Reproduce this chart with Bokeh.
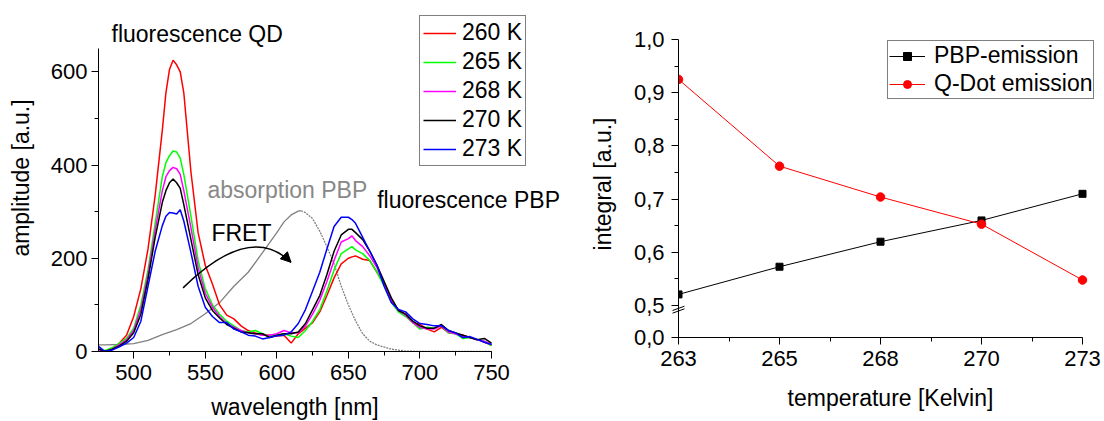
from bokeh.plotting import figure
from bokeh.models import (Range1d, SingleIntervalTicker, FixedTicker, CustomJSTickFormatter,
                          Legend, LegendItem, Label, Arrow, NormalHead)
from bokeh.embed import file_html
from bokeh.resources import INLINE

FONT = "Liberation Sans"

# ---------------- left panel data ----------------
wavelength = [475, 480, 485, 490, 495, 500, 505, 510, 515, 520,
              522.5, 525, 527.5, 530, 532.5, 535,
              540, 545, 550, 555, 560, 565, 570, 575, 580, 585, 590, 595, 600, 605, 610, 615,
              620, 625, 630, 635, 640, 645, 650,
              652.5,
              655, 660, 665, 670, 675, 680, 685, 690, 695, 700, 705, 710, 715, 720, 725, 730,
              735, 740, 745, 750]

em_260 = [5, 0, 5, 18, 35, 75, 135, 220, 335, 475,
          555, 605, 625, 615, 600, 555,
          385, 255, 185, 145, 100, 78, 70, 55, 45, 40, 35, 35, 33, 35, 18, 38,
          50, 62, 85, 120, 158, 188, 200,
          203,
          205, 198, 195, 170, 145, 110, 88, 80, 62, 58, 48, 42, 52, 40, 38, 35, 30, 26, 20, 14]

em_265 = [3, 2, 8, 18, 28, 50, 100, 175, 275, 375,
          405, 420, 430, 428, 415, 380,
          290, 195, 135, 100, 80, 65, 55, 45, 42, 45, 38, 33, 35, 38, 33, 30,
          45, 65, 90, 130, 175, 210, 220,
          225,
          218, 210, 195, 170, 140, 105, 85, 75, 62, 48, 52, 50, 55, 40, 38, 28, 30, 25, 22, 12]

em_268 = [3, 0, 5, 15, 25, 45, 90, 165, 260, 345,
          375, 388, 395, 392, 380, 345,
          265, 180, 125, 95, 75, 60, 52, 45, 40, 38, 35, 35, 38, 45, 40, 40,
          55, 80, 110, 150, 195, 235, 242,
          248,
          238, 225, 205, 180, 145, 108, 88, 78, 62, 52, 48, 48, 55, 42, 38, 32, 30, 25, 22, 15]

em_270 = [6, 0, 5, 12, 22, 40, 80, 155, 245, 320,
          345, 362, 370, 362, 350, 315,
          240, 165, 115, 88, 72, 58, 50, 42, 40, 38, 38, 30, 35, 38, 38, 42,
          60, 90, 120, 165, 215, 250, 262,
          262,
          255, 240, 215, 185, 150, 115, 88, 80, 65, 55, 50, 50, 58, 45, 40, 35, 30, 25, 28, 18]

em_273 = [12, 0, 3, 10, 18, 30, 65, 140, 215, 270,
          290, 298, 297, 295, 304, 280,
          212, 140, 95, 75, 62, 62, 48, 42, 35, 33, 27, 30, 34, 35, 42, 60,
          90, 130, 170, 220, 268, 288, 288,
          283,
          275, 245, 215, 185, 140, 105, 90, 85, 70, 60, 58, 55, 55, 45, 40, 30, 32, 26, 20, 15]

series_labels = ["260 K", "265 K", "268 K", "270 K", "273 K"]
series_colors = ["#ff0000", "#00ff00", "#ff00ff", "#000000", "#0000ff"]

absorption_wl = [475, 480, 490, 500, 510, 520, 530, 540, 550, 560, 570, 580, 590, 600, 605,
                 610, 615, 617, 620, 625, 630, 635, 640, 645, 650, 655, 660, 665, 670, 680,
                 690, 700, 720, 750]
absorption = [14, 14, 15, 17, 24, 36, 47, 60, 81, 105, 140, 170, 212, 255, 278,
              293, 301, 302, 298, 285, 258, 225, 188, 140, 100, 66, 38, 22, 14, 5,
              1, 0, 0, 0]
ABS_PEAK_INDEX = 17

# ---------------- right panel data ----------------
temperature_labels = ["263", "265", "268", "270", "273"]
pbp_emission = [0.521, 0.573, 0.620, 0.660, 0.710]
qdot_emission = [0.925, 0.762, 0.704, 0.653, 0.548]
y_tick_values = [0.44, 0.5, 0.6, 0.7, 0.8, 0.9, 1.0]
y_tick_labels = ["0,0", "0,5", "0,6", "0,7", "0,8", "0,9", "1,0"]
y_minor_ticks = [0.55, 0.65, 0.75, 0.85, 0.95]

# ---------------- layout (pixels) ----------------
W, H = 1104, 421
L_W, L_FRAME_LEFT, L_FRAME_RIGHT = 700, 98, 698
L_AXIS_RIGHT_PX = 491          # where 750 nm sits
L_FRAME_TOP, L_AXIS_TOP_PX, L_FRAME_BOTTOM = 4, 48, 351
R_LEFT = 552
R_W, R_FRAME_LEFT, R_AXIS_RIGHT_PX, R_FRAME_RIGHT = 552, 678, 1082, 1102
R_FRAME_TOP, R_AXIS_TOP_PX, R_FRAME_BOTTOM = 30, 39, 337

X0, X1 = 475.4, 750.0
Y0, Y1 = 0.0, 650.0
lx_scale = (L_AXIS_RIGHT_PX - L_FRAME_LEFT) / (X1 - X0)
ly_scale = (L_FRAME_BOTTOM - L_AXIS_TOP_PX) / (Y1 - Y0)
lx_end = X0 + (L_FRAME_RIGHT - L_FRAME_LEFT) / lx_scale
ly_end = Y0 + (L_FRAME_BOTTOM - L_FRAME_TOP) / ly_scale


def px_to_left(px, py):
    return X0 + (px - L_FRAME_LEFT) / lx_scale, Y0 + (L_FRAME_BOTTOM - py) / ly_scale


def style_axis(ax):
    ax.axis_line_color = "black"
    ax.axis_line_width = 1
    ax.major_tick_line_color = "black"
    ax.minor_tick_line_color = "black"
    ax.major_tick_in = 0
    ax.major_tick_out = 7
    ax.minor_tick_in = 0
    ax.minor_tick_out = 4
    ax.major_label_text_font = FONT
    ax.major_label_text_font_size = "22px"
    ax.major_label_text_color = "black"
    ax.axis_label_text_font = FONT
    ax.axis_label_text_font_size = "23px"
    ax.axis_label_text_font_style = "normal"
    ax.axis_label_text_color = "black"


def style_legend(leg):
    leg.border_line_color = "black"
    leg.border_line_width = 1
    leg.background_fill_color = "white"
    leg.background_fill_alpha = 1
    leg.label_text_font = FONT
    leg.label_text_font_size = "23px"
    leg.label_text_color = "black"
    leg.glyph_height = 20
    leg.margin = 0


# ================= left figure =================
p1 = figure(width=L_W, height=H, title=None,
            x_range=Range1d(X0, lx_end), y_range=Range1d(Y0, ly_end),
            output_backend="svg", toolbar_location=None,
            min_border_left=L_FRAME_LEFT, min_border_right=L_W - L_FRAME_RIGHT,
            min_border_top=L_FRAME_TOP, min_border_bottom=H - L_FRAME_BOTTOM)
p1.outline_line_color = None
p1.xgrid.grid_line_color = None
p1.ygrid.grid_line_color = None
p1.xaxis.ticker = SingleIntervalTicker(interval=50, num_minor_ticks=2)
p1.yaxis.ticker = SingleIntervalTicker(interval=200, num_minor_ticks=2)
p1.xaxis.bounds = (X0, X1)
p1.yaxis.bounds = (Y0, Y1)
p1.yaxis.axis_label = "amplitude [a.u.]"
style_axis(p1.xaxis[0])
style_axis(p1.yaxis[0])
p1.xaxis.major_label_standoff = 6
p1.yaxis.major_label_standoff = 4
p1.yaxis.axis_label_standoff = 14

# absorption (solid rising side, dotted falling side)
p1.line(absorption_wl[:ABS_PEAK_INDEX + 1], absorption[:ABS_PEAK_INDEX + 1],
        line_color="#808080", line_width=1.3)
p1.line(absorption_wl[ABS_PEAK_INDEX:], absorption[ABS_PEAK_INDEX:],
        line_color="#808080", line_width=1.3, line_dash="2 1")

items = []
for lab, col, ys in zip(series_labels, series_colors, [em_260, em_265, em_268, em_270, em_273]):
    r = p1.line(wavelength, ys, line_color=col, line_width=1.5)
    items.append(LegendItem(label=lab, renderers=[r]))

leg1 = Legend(items=items, location=(419 - L_FRAME_LEFT, L_FRAME_BOTTOM - 166))
style_legend(leg1)
leg1.glyph_width = 33
leg1.label_standoff = 6
leg1.spacing = 2
leg1.padding = 3
p1.add_layout(leg1)

# FRET arrow
FRET_START = (534.5, 136.5)
FRET_CTRL = (581.4, 278)
FRET_END = (609.9, 191.3)
p1.quadratic(x0=[FRET_START[0]], y0=[FRET_START[1]], x1=[FRET_END[0]], y1=[FRET_END[1]],
             cx=[FRET_CTRL[0]], cy=[FRET_CTRL[1]], line_color="black", line_width=1.5)
p1.add_layout(Arrow(end=NormalHead(size=10, fill_color="black", line_color="black"),
                    x_start=FRET_END[0] - 0.12 * (FRET_END[0] - FRET_CTRL[0]),
                    y_start=FRET_END[1] - 0.12 * (FRET_END[1] - FRET_CTRL[1]),
                    x_end=FRET_END[0], y_end=FRET_END[1], line_width=1.5, line_color="black"))

for txt, x, y, col in [("fluorescence QD", 484.5, 682, "black"),
                       ("absorption PBP", 551.5, 347, "#888888"),
                       ("fluorescence PBP", 670.1, 325, "black"),
                       ("FRET", 554.3, 255, "black")]:
    p1.add_layout(Label(x=x, y=y, text=txt, text_font=FONT, text_font_size="23px",
                        text_color=col, text_baseline="middle", text_align="left"))

# axis-break marks of the right panel's y axis (window pixels, drawn through p1's frame)
for (ax0, ay0), (ax1, ay1) in [((672, 310.0), (684, 305.7)), ((672, 312.7), (684, 308.3))]:
    bx0, by0 = px_to_left(ax0, ay0)
    bx1, by1 = px_to_left(ax1, ay1)
    p1.segment(x0=[bx0], y0=[by0], x1=[bx1], y1=[by1], line_color="black", line_width=1)

# ================= right figure =================
N = len(temperature_labels)
rx_scale = (R_AXIS_RIGHT_PX - R_FRAME_LEFT) / (N - 1)
ry_scale = (R_FRAME_BOTTOM - R_AXIS_TOP_PX) / (y_tick_values[-1] - y_tick_values[0])
rx_end = (R_FRAME_RIGHT - R_FRAME_LEFT) / rx_scale
ry_end = y_tick_values[0] + (R_FRAME_BOTTOM - R_FRAME_TOP) / ry_scale

p2 = figure(width=R_W, height=H, title=None,
            x_range=Range1d(0, rx_end), y_range=Range1d(y_tick_values[0], ry_end),
            output_backend="svg", toolbar_location=None,
            min_border_left=R_FRAME_LEFT - R_LEFT, min_border_right=R_LEFT + R_W - R_FRAME_RIGHT,
            min_border_top=R_FRAME_TOP, min_border_bottom=H - R_FRAME_BOTTOM)
p2.styles = {"position": "absolute", "left": f"{R_LEFT}px", "top": "0px"}
p2.outline_line_color = None
p2.background_fill_alpha = 0
p2.border_fill_alpha = 0
p2.xgrid.grid_line_color = None
p2.ygrid.grid_line_color = None
idx = list(range(N))
p2.xaxis.ticker = FixedTicker(ticks=idx, minor_ticks=[i + 0.5 for i in idx[:-1]])
p2.xaxis.formatter = CustomJSTickFormatter(args=dict(labels=temperature_labels),
                                           code="const i = Math.round(tick); return labels[i] ?? '';")
p2.yaxis.ticker = FixedTicker(ticks=y_tick_values, minor_ticks=y_minor_ticks)
p2.yaxis.formatter = CustomJSTickFormatter(
    args=dict(vals=y_tick_values, labels=y_tick_labels),
    code="for (let i = 0; i < vals.length; i++) { if (Math.abs(vals[i] - tick) < 1e-6) return labels[i]; } return '';")
p2.xaxis.bounds = (0, N - 1)
p2.yaxis.bounds = (y_tick_values[0], y_tick_values[-1])
p2.xaxis.axis_label = "temperature [Kelvin]"
p2.yaxis.axis_label = "integral [a.u.]"
style_axis(p2.xaxis[0])
style_axis(p2.yaxis[0])
p2.xaxis.major_label_standoff = 6
p2.xaxis.axis_label_standoff = 16
p2.yaxis.major_label_standoff = 7
p2.yaxis.axis_label_standoff = 15

l_pbp = p2.line(idx, pbp_emission, line_color="black", line_width=1)
s_pbp = p2.scatter(idx, pbp_emission, marker="square", size=7, color="black")
l_qd = p2.line(idx, qdot_emission, line_color="#ff0000", line_width=1)
s_qd = p2.scatter(idx, qdot_emission, marker="circle", size=8.5, color="#ff0000")

leg2 = Legend(items=[LegendItem(label="PBP-emission", renderers=[l_pbp, s_pbp]),
                     LegendItem(label="Q-Dot emission", renderers=[l_qd, s_qd])],
              location=(887 - R_FRAME_LEFT, R_FRAME_BOTTOM - 99))
style_legend(leg2)
leg2.glyph_width = 36
leg2.label_standoff = 9
leg2.spacing = 1
leg2.padding = 1
p2.add_layout(leg2)

# ================= overlay for the left x-axis title =================
p3 = figure(width=W, height=H, title=None, x_range=Range1d(0, W), y_range=Range1d(H, 0),
            x_axis_location=None, y_axis_location=None,
            output_backend="svg", toolbar_location=None, min_border=0)
p3.styles = {"position": "absolute", "left": "0px", "top": "0px"}
p3.outline_line_color = None
p3.background_fill_alpha = 0
p3.border_fill_alpha = 0
p3.grid.visible = False
p3.add_layout(Label(x=(L_FRAME_LEFT + L_AXIS_RIGHT_PX) / 2, y=406, text="wavelength [nm]",
                    text_font=FONT, text_font_size="23px", text_color="black",
                    text_align="center", text_baseline="middle"))

open("out.html", "w").write(file_html([p1, p2, p3], INLINE))
